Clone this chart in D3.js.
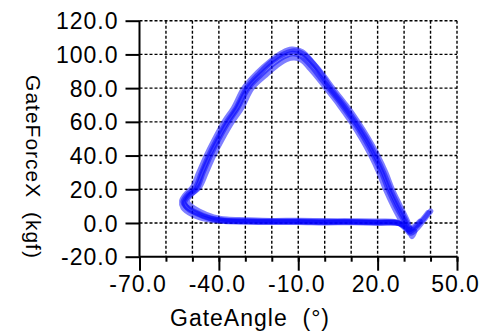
<!DOCTYPE html>
<html>
<head>
<meta charset="utf-8">
<script src="https://cdn.jsdelivr.net/npm/d3@7"></script>
<style>
  html, body { margin: 0; padding: 0; background: #fff; }
  svg { display: block; }
  text { font-family: "Liberation Sans", Arial, sans-serif; fill: #000; }
</style>
</head>
<body>
<svg id="chart" width="482" height="331"></svg>
<script>
// ---- data ----
const xTicksMinor = [-70, -60, -50, -40, -30, -20, -10, 0, 10, 20, 30, 40, 50];
const xTicksMajor = [-70, -40, -10, 20, 50];
const yTicks = [-20, 0, 20, 40, 60, 80, 100, 120];
const xTitle = "GateAngle  (°)";
const yTitle = "GateForceX  (kgf)";

// several recorded cycles: [GateAngle, GateForceX]
const cycle1 = [[31,-3],[28,0],[20,0.5],[10,0.8],[0,0.8],[-10,1],[-20,1],[-30,1.2],[-37.5,1.5],[-43,2.5],[-49,6],[-52,9],[-53,12],[-51.5,16],[-48.5,20],[-46,30],[-43.2,40],[-40,50],[-36.4,60],[-33,68],[-28.9,80],[-24,88],[-19,95],[-15,99],[-12,100.5],[-9,99],[-5,93],[-2,87],[1.5,80],[6.5,70],[11,60],[15,50],[18.5,40],[21.5,30],[24,20],[27,10],[30.5,0],[32,-5],[34,-3],[37,2],[39,6]];
const cycle2 = [[32,-6],[28,-0.3],[20,0],[10,0.3],[0,0.2],[-10,0.5],[-20,0.4],[-30,0.6],[-38,1],[-44,2],[-50,5],[-53.5,9],[-54,13],[-52.5,17],[-50,21],[-47.5,30],[-44.7,40],[-41.5,50],[-38,60],[-34.5,68],[-30.5,80],[-25.5,89],[-20.5,96],[-16,101],[-12.5,103],[-8.5,101.5],[-4.5,95],[-1,88.5],[3,80],[8,70],[12.5,60],[16.5,50],[20,40],[23,30],[25.5,20],[28.5,10],[31.5,0],[33,-8],[34,-5]];
const cycle3 = [[30,-2],[27,0.5],[20,1],[10,1.2],[0,1.3],[-10,1.5],[-20,1.4],[-30,1.8],[-37,2.2],[-42,3.5],[-47.5,7],[-51,10.5],[-52,13],[-50.5,17],[-47.5,21],[-44.8,30],[-42,40],[-38.7,50],[-35,60],[-31.5,68],[-27.5,80],[-22.5,87.5],[-18,93.5],[-14.5,97],[-11.5,98],[-8.5,96.5],[-5.5,91.5],[-2.5,86],[0.5,80],[5.5,70],[10,60],[14,50],[17.5,40],[20.5,30],[23,20],[26,10],[29.5,0],[31.5,-4],[34,-2],[36,1]];
const cycle4 = [[33,-4],[29,-0.5],[20,0.2],[10,0.6],[0,0.5],[-10,0.8],[-20,0.7],[-30,1],[-38,1.3],[-43.5,3],[-49,6.5],[-52.5,10],[-53.5,12.5],[-52,16.5],[-49,20.5],[-46.5,30],[-43.8,40],[-40.6,50],[-37,60],[-33.5,68],[-29.5,80],[-24.8,88.5],[-19.8,96],[-15,100.5],[-11.5,102],[-8,100],[-4,94],[-1.2,88],[2.2,80],[7.2,70],[11.7,60],[15.8,50],[19.2,40],[22.2,30],[24.8,20],[27.8,10],[31,0],[32.5,-6],[35,-3],[38,3],[40,7]];
const cycles = [cycle1, cycle2, cycle3, cycle4];

// ---- layout ----
const svg = d3.select("#chart");
const x = d3.scaleLinear().domain([-70, 50]).range([139.5, 457]);
const y = d3.scaleLinear().domain([-20, 120]).range([256.7, 20.7]);
const fmt = d3.formatLocale({decimal: ".", thousands: ",", grouping: [3], currency: ["", ""], minus: "-"}).format(".1f");

// grid
const grid = svg.append("g").attr("stroke", "#000").attr("stroke-width", 1.4).attr("stroke-dasharray", "3,2");
grid.selectAll("line.v").data(xTicksMinor.filter(d => d > -70)).join("line")
  .attr("x1", d => x(d)).attr("x2", d => x(d)).attr("y1", y(120)).attr("y2", y(-20));
grid.selectAll("line.h").data(yTicks.filter(d => d > -20)).join("line")
  .attr("class", "h")
  .attr("x1", x(-70)).attr("x2", x(50)).attr("y1", d => y(d)).attr("y2", d => y(d));

// data
const line = d3.line().x(d => x(d[0])).y(d => y(d[1])).curve(d3.curveCatmullRom.alpha(0.5));
svg.append("g").selectAll("path").data(cycles).join("path")
  .attr("d", line)
  .attr("fill", "none")
  .attr("stroke", "#0000ff")
  .attr("stroke-width", 5.5)
  .attr("stroke-linejoin", "round")
  .attr("stroke-linecap", "round")
  .attr("stroke-opacity", 0.5);

// axes
const yAxis = svg.append("g").attr("transform", `translate(${x(-70)},0)`)
  .call(d3.axisLeft(y).tickValues(yTicks).tickSize(14).tickPadding(7).tickFormat(fmt));
const xMinor = svg.append("g").attr("transform", `translate(0,${y(-20)})`)
  .call(d3.axisBottom(x).tickValues(xTicksMinor).tickSize(5).tickFormat(""));
const xMajor = svg.append("g").attr("transform", `translate(0,${y(-20)})`)
  .call(d3.axisBottom(x).tickValues(xTicksMajor).tickSize(14).tickPadding(5).tickFormat(fmt));
[yAxis, xMinor, xMajor].forEach(g => {
  g.select(".domain").attr("stroke", "#000").attr("stroke-width", 2);
  g.selectAll(".tick line").attr("stroke", "#000").attr("stroke-width", 2);
  g.selectAll("text").attr("font-size", 23).attr("letter-spacing", 1)
    .attr("font-family", '"Liberation Sans", Arial, sans-serif').attr("fill", "#000");
});
yAxis.select(".domain").attr("d", `M0,${y(-20)}V${y(120)}`);
xMinor.select(".domain").attr("d", `M${x(-70)},0H${x(50)}`);
xMajor.select(".domain").remove();
yAxis.selectAll("text").attr("dy", "0.35em");
xMajor.selectAll("text").attr("dx", -2);

// titles
svg.append("text").attr("x", 250).attr("y", 326).attr("text-anchor", "middle")
  .attr("font-size", 23).attr("letter-spacing", 1).style("white-space", "pre").text(xTitle);
svg.append("text").attr("transform", "translate(26,167) rotate(90)").attr("text-anchor", "middle")
  .attr("font-size", 21).attr("letter-spacing", 1).style("white-space", "pre").text(yTitle);
</script>
</body>
</html>
